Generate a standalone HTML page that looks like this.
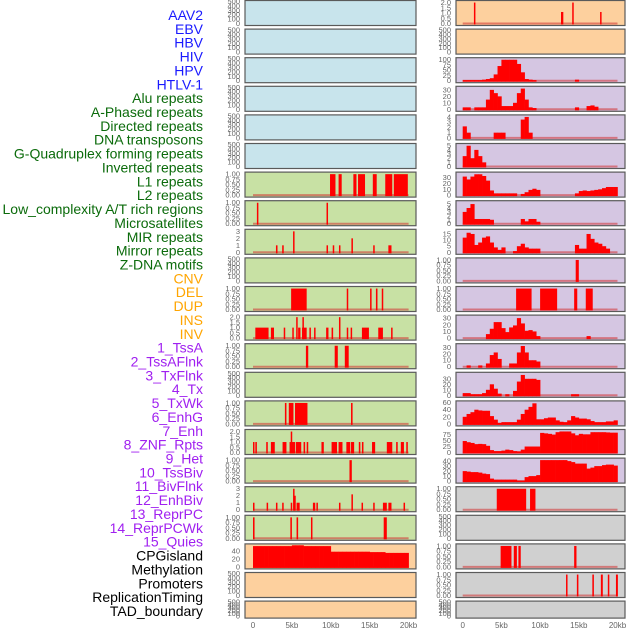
<!DOCTYPE html>
<html><head><meta charset="utf-8"><style>
html,body{margin:0;padding:0;background:#fff;width:630px;height:630px;overflow:hidden}
svg{display:block;font-family:"Liberation Sans",sans-serif}
</style></head><body>
<svg id="chart" width="630" height="630" viewBox="0 0 630 630"></svg>
<script>
// ---- labels ----
const trackLabels = ["AAV2","EBV","HBV","HIV","HPV","HTLV-1","Alu repeats","A-Phased repeats","Directed repeats","DNA transposons","G-Quadruplex forming repeats","Inverted repeats","L1 repeats","L2 repeats","Low_complexity A/T rich regions","Microsatellites","MIR repeats","Mirror repeats","Z-DNA motifs","CNV","DEL","DUP","INS","INV","1_TssA","2_TssAFlnk","3_TxFlnk","4_Tx","5_TxWk","6_EnhG","7_Enh","8_ZNF_Rpts","9_Het","10_TssBiv","11_BivFlnk","12_EnhBiv","13_ReprPC","14_ReprPCWk","15_Quies","CPGisland","Methylation","Promoters","ReplicationTiming","TAD_boundary"];
const labelGroups = ["viral","viral","viral","viral","viral","viral","rep","rep","rep","rep","rep","rep","rep","rep","rep","rep","rep","rep","rep","sv","sv","sv","sv","sv","hmm","hmm","hmm","hmm","hmm","hmm","hmm","hmm","hmm","hmm","hmm","hmm","hmm","hmm","hmm","oth","oth","oth","oth","oth"];
const xTickValues = [0,5,10,15,20];
const xTickLabels = ["0","5kb","10kb","15kb","20kb"];
// ---- tick sets ----
const ticksEmpty = ["0","100","200","300","400","500"];
const ticksUnit = ["0.00","0.25","0.50","0.75","1.00"];
const ticksTwo = ["0.0","0.5","1.0","1.5","2.0"];
const ticksThree = ["0","1","2","3"];
// ---- binned series (0.5kb bins) ----
const binsTssA = [3,3,3,3,3,5,8,12,30,70,100,100,100,100,80,40,8,5,3,0,0,0,0,0,0,0,0,0,0,5];
const binsTssAFlnk = [3,3,0,3,3,3,15,30,25,20,5,5,5,10,25,32,15,3,2,0,0,0,0,0,0,0,0,0,0,3,0,0,5,6,4];
const binsTxFlnk = [2.2,1,0,0,0,0,0,0,1,1,1,0,0,0,0,3.5,4,1];
const binsTx = [2.5,5,2,4,2.5,1];
const binsTxWk = [32,27,32,36,36,33,25,8,3,3,3,3,3,3,0,2,5,9,11,9,0,0,0,0,0,0,0,0,0,3,7,8,7,8,9,10,12,14,14,14];
const binsEnhG = [3,4,5,1.2,1.2,1.2,1.2,1,0,0,0,0,0,0,0,1.2,0.6,1.2,1.2,0.5];
const binsEnh = [12,16,15,6,8,12,13,8,4,2,4,0,0,1,5,7,4,3,3,3,0,0,0,0,0,0,0,0,0,6,3,3,15,11,8,7,5,3];
const binsTssBiv = [0,0,0,0,0,0,6,14,24,24,15,9,16,19,30,22,11,12,10,3,0,0,0,0,0,0,0,0,0,0,0,0,3];
const binsBivFlnk = [0,2,0,0,2,0,5,18,22,12,0,0,5,5,22,32,22,10,10,8];
const binsEnhBiv = [4,4,2,2,2,4,10,20,12,3,0,2,0,8,25,37,30,30,30,28,0,0,0,0,0,0,0,0,2,2];
const binsReprPC = [20,28,33,40,38,37,37,22,12,3,5,5,5,5,12,28,40,48,58,13,13,16,18,18,10,6,5,10,22,18,15,15,13,8,5,5,5,7,7,10];
const binsReprPCWk = [48,43,40,35,36,35,28,10,6,6,8,12,10,6,5,12,25,25,25,25,82,80,78,75,85,88,88,88,80,72,78,76,76,85,85,85,85,84,83,83];
const binsQuies = [20,19,18,18,17,15,14,5,3,3,3,3,3,3,1,1,8,10,10,12,42,42,42,42,42,42,42,40,38,35,35,35,25,27,30,30,32,33,33,31];
const binsDEL = [52,52,52,52,52,52,52,52,52,52,54,54,54,52,52,52,52,52,52,52,38,38,38,38,38,38,38,38,38,38,37,37,37,37,35,35,35,35,35,35];
// ---- segment series: [startKb, endKb, value] ----
const segsINS = [[1.45,1.6,2],[12.7,13.0,1.1],[14.15,14.3,2],[17.75,17.9,1.1]];
const segsZNF = [[14.6,15.0,1]];
const segsHet = [[6.9,8.9,1],[10.0,12.2,1],[14.4,14.8,1],[15.9,16.8,1]];
const segsCPG = [[4.4,8.2,1],[8.7,9.4,1]];
const segsPromoters = [[4.9,6.3,1],[6.6,7.0,1],[7.2,7.5,1],[14.4,14.7,1]];
const segsRepTiming = [[13.35,13.5,1],[14.75,14.95,1],[16.75,16.95,1],[17.85,18.1,1],[18.75,18.9,1],[19.8,20.05,1]];
const segsAlu = [[9.9,10.6,1],[11.0,11.4,1],[12.9,13.3,1],[13.5,14.4,1],[15.4,15.9,1],[17.0,17.9,1],[18.1,19.9,1]];
const segsAPhased = [[0.5,0.65,1],[9.45,9.6,1]];
const segsDirected = [[2.95,3.15,1],[3.75,3.95,1],[5.15,5.3,3],[9.45,9.6,1],[10.25,10.4,1],[11.05,11.2,1],[12.65,12.8,2],[15.45,15.6,1],[17.4,17.8,1]];
const segsGQuad = [[4.9,6.9,1],[12.05,12.2,1],[15.05,15.2,1],[15.8,16.0,1],[16.55,16.7,1]];
const segsInverted = [[0.3,2.0,1],[2.3,2.7,1],[3.95,4.1,1],[5.05,5.2,1],[5.55,5.7,2],[5.8,6.1,1],[6.3,6.9,1],[6.35,6.5,2],[7.25,7.4,1],[7.85,8.0,1],[9.4,9.7,1],[10.1,10.3,1],[11.05,11.2,2],[12.05,12.2,1],[12.55,12.7,1],[14.0,14.9,1],[16.1,16.7,1],[17.75,17.9,1]];
const segsL1 = [[6.8,7.1,1],[10.5,10.9,1],[11.8,12.3,1]];
const segsLowComplex = [[4.1,4.3,1],[4.6,5.2,1],[5.4,7.0,1],[12.6,12.8,1]];
const segsMicrosat = [[0,0.15,1],[0.3,0.5,1],[1.7,1.9,1],[2.3,2.8,1],[3.8,4.3,1],[4.7,5.4,1],[4.85,5.0,2],[5.5,6.2,1],[6.5,6.7,1],[6.9,7.1,1],[8.8,9.1,1],[10.1,10.8,1],[11.0,11.5,1],[12.0,12.5,1],[12.6,13.0,1],[13.6,13.8,1],[14.0,14.2,1],[15.3,15.7,1],[17.2,17.9,1],[18.4,18.6,1],[19.0,19.4,1],[19.7,19.9,1]];
const segsMIR = [[12.4,12.7,1]];
const segsMirror = [[0,0.15,1],[1.75,1.9,1],[2.95,3.1,1],[3.75,3.9,1],[4.85,5.0,1],[5.15,5.3,3],[5.3,5.45,2],[5.6,6.0,1],[7.7,8.0,1],[8.15,8.3,1],[11.05,11.2,1],[12.65,12.8,2.2],[13.95,14.1,1],[15.45,15.6,1],[16.7,17.2,1],[17.4,17.8,1],[19.35,19.5,1]];
const segsCNV = [[0,0.2,1],[4.8,5.0,1],[5.6,5.8,1],[7.45,7.6,1],[16.8,17.2,1]];

const BG = {blue:"#c8e4ec", green:"#c8e1a4", orange:"#fdd09e", purple:"#d5c6e2", gray:"#d0d0d0"};
const panels = [
 [0,0,"blue",ticksEmpty,500,null,null,"aav2"],[0,1,"blue",ticksEmpty,500,null,null,"ebv"],[0,2,"blue",ticksEmpty,500,null,null,"hbv"],
 [0,3,"blue",ticksEmpty,500,null,null,"hiv"],[0,4,"blue",ticksEmpty,500,null,null,"hpv"],[0,5,"blue",ticksEmpty,500,null,null,"htlv1"],
 [0,6,"green",ticksUnit,1.05,null,segsAlu,"alu"],[0,7,"green",ticksUnit,1.05,null,segsAPhased,"a-phased"],
 [0,8,"green",ticksThree,3.15,null,segsDirected,"directed"],[0,9,"green",ticksEmpty,500,null,null,"dna-transposons"],
 [0,10,"green",ticksUnit,1.05,null,segsGQuad,"g-quadruplex"],[0,11,"green",ticksTwo,2.1,null,segsInverted,"inverted"],
 [0,12,"green",ticksUnit,1.05,null,segsL1,"l1"],[0,13,"green",ticksEmpty,500,null,null,"l2"],
 [0,14,"green",ticksUnit,1.05,null,segsLowComplex,"low-complexity"],[0,15,"green",ticksTwo,2.1,null,segsMicrosat,"microsatellites"],
 [0,16,"green",ticksUnit,1.05,null,segsMIR,"mir"],[0,17,"green",ticksThree,3.15,null,segsMirror,"mirror"],
 [0,18,"green",ticksUnit,1.05,null,segsCNV,"z-dna"],[0,19,"orange",["0","20","40"],55,binsDEL,null,"cnv"],
 [0,20,"orange",ticksEmpty,500,null,null,"del"],[0,21,"orange",ticksEmpty,500,null,null,"dup"],
 [1,0,"orange",ticksTwo,2.1,null,segsINS,"ins"],[1,1,"orange",ticksEmpty,500,null,null,"inv"],
 [1,2,"purple",["0","25","50","75","100"],105,binsTssA,null,"tssa"],[1,3,"purple",["0","10","20","30"],34,binsTssAFlnk,null,"tssaflnk"],
 [1,4,"purple",["0","1","2","3","4"],4.2,binsTxFlnk,null,"txflnk"],[1,5,"purple",["0","1","2","3","4","5"],5.3,binsTx,null,"tx"],
 [1,6,"purple",["0","10","20","30"],38,binsTxWk,null,"txwk"],[1,7,"purple",["0","1","2","3","4","5"],5.6,binsEnhG,null,"enhg"],
 [1,8,"purple",["0","5","10","15"],18,binsEnh,null,"enh"],[1,9,"purple",ticksUnit,1.05,null,segsZNF,"znf"],
 [1,10,"purple",ticksUnit,1.05,null,segsHet,"het"],[1,11,"purple",["0","10","20","30"],33,binsTssBiv,null,"tssbiv"],
 [1,12,"purple",["0","10","20","30"],34,binsBivFlnk,null,"bivflnk"],[1,13,"purple",["0","10","20","30"],40,binsEnhBiv,null,"enhbiv"],
 [1,14,"purple",["0","20","40","60"],62,binsReprPC,null,"reprpc"],[1,15,"purple",["0","25","50","75"],92,binsReprPCWk,null,"reprpcwk"],
 [1,16,"purple",["0","10","20","30","40"],44,binsQuies,null,"quies"],[1,17,"gray",ticksUnit,1.05,null,segsCPG,"cpgisland"],
 [1,18,"gray",ticksEmpty,500,null,null,"methylation"],[1,19,"gray",ticksUnit,1.05,null,segsPromoters,"promoters"],
 [1,20,"gray",ticksUnit,1.05,null,segsRepTiming,"replication-timing"],[1,21,"gray",ticksEmpty,500,null,null,"tad-boundary"]
];

const NS = "http://www.w3.org/2000/svg";
const svg = document.getElementById("chart");
function mk(tag, attrs, parent){ const e=document.createElementNS(NS,tag); for(const k in attrs) e.setAttribute(k,attrs[k]); (parent||svg).appendChild(e); return e; }
const colX = [{x:245,w:171,x0:253,pk:7.78,tr:240},{x:456,w:169,x0:462.7,pk:7.74,tr:451}];
function xScale(col,kb){ return colX[col].x0 + kb*colX[col].pk; }
function rowTop(r){ return 0.5 + r*28.6; }
function rowH(r){ return r===21 ? 17 : 25; }
function yScale(r,v,ymax){ const t=rowTop(r), h=rowH(r); return t + h - 2 - (v/ymax)*(h-3); }

const groupColor = {viral:"#1a1aff", rep:"#0b6b0b", sv:"#ffa500", hmm:"#a020f0", oth:"#000"};
trackLabels.forEach((t,i)=>{
  const e = mk("text",{x:203,y:15+i*13.86+5,"text-anchor":"end","font-size":"14",fill:groupColor[labelGroups[i]]});
  e.textContent = t;
  
  
});

panels.forEach(p=>{
  const [col,row,bg,ticks,ymax,bins,segs,name] = p;
  const c = colX[col], t = rowTop(row), h = rowH(row);
  const g = mk("g",{});
  
  
  const r = mk("rect",{x:c.x,y:t,width:c.w,height:h,fill:BG[bg]},g);
  
  
  ticks.forEach(tk=>{
    const v = parseFloat(tk);
    const e = mk("text",{x:c.tr,y:yScale(row,v,ymax)+2.5,"text-anchor":"end","font-size":"7.5",fill:"#666"},g);
    e.textContent = tk;
    
    
  });
  const y0 = yScale(row,0,ymax);
  if(bins||segs){
    const bl = mk("line",{x1:xScale(col,0),x2:xScale(col,20),y1:y0,y2:y0,stroke:"rgba(210,50,50,0.55)","stroke-width":2},g);
    
    
  }
  if(bins){
    bins.forEach((v,i)=>{
      if(v<=0) return;
      const x1 = xScale(col,i*0.5), x2 = xScale(col,(i+1)*0.5), yv = yScale(row,v,ymax);
      const b = mk("rect",{x:x1,y:yv,width:x2-x1+0.3,height:y0-yv+1,fill:"#ff0000"},g);
      
      
    });
  }
  if(segs){
    segs.forEach(s=>{
      const x1 = xScale(col,s[0]), x2 = xScale(col,s[1]), yv = yScale(row,s[2],ymax);
      const b = mk("rect",{x:x1,y:yv,width:Math.max(1.5,x2-x1),height:y0-yv+1,fill:"#ff0000"},g);
      
      
    });
  }
  const fr = mk("rect",{x:c.x,y:t,width:c.w,height:h,fill:"none",stroke:"#5a5a5a","stroke-width":1.2},g);
  
  
});

[0,1].forEach(col=>{
  xTickValues.forEach((v,i)=>{
    const e = mk("text",{x:xScale(col,v),y:628,"text-anchor":"middle","font-size":"8",fill:"#666"});
    e.textContent = xTickLabels[i];
    
    
  });
});
</script>
</body></html>
